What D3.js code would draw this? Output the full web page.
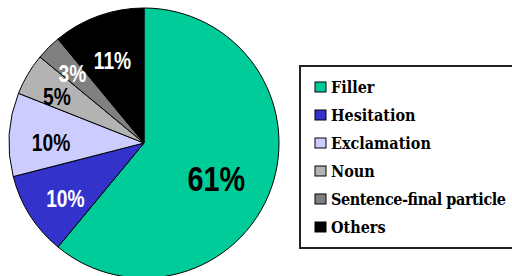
<meta charset="utf-8">
<script src="https://d3js.org/d3.v7.min.js"></script>
<style>
body { margin: 0; background: #fff; }
.lg { font-family: "DejaVu Serif", serif; font-weight: bold; font-stretch: condensed; }
.pl { font-family: "Liberation Sans", Arial, sans-serif; font-weight: bold; }
</style>
<body>
<div id="chart"></div>
<script>

var width = 512
var height = 276

var categories = ["Filler", "Hesitation", "Exclamation", "Noun", "Sentence-final particle", "Others"]
var values = [61, 10, 10, 5, 3, 11]
var labels = ["61%", "10%", "10%", "5%", "3%", "11%"]
var colors = ["#00cc99", "#3333cc", "#ccccff", "#b3b3b3", "#808080", "#000000"]
var labelColors = ["#000", "#fff", "#000", "#000", "#fff", "#fff"]

var data = categories.map(function(c, i) {
  return { key: c, value: values[i], label: labels[i], color: colors[i], tcolor: labelColors[i] }
})

var svg = d3.select("#chart")
  .append("svg")
    .attr("width", width)
    .attr("height", height)

var cx = 144, cy = 143, R = 135

var pie = d3.pie()
  .sort(null)
  .value(function(d) { return d.value })

var arc = d3.arc().innerRadius(0).outerRadius(R)

// label distance from centre: big slice nearer, thin slices further out
function labelPos(d) {
  var k = d.data.value > 50 ? 0.57 : (d.data.value < 6 ? 0.75 : 0.69)
  return d3.arc().innerRadius(R * k).outerRadius(R * k).centroid(d)
}

var g = svg.append("g").attr("transform", "translate(" + cx + "," + cy + ")")

var arcs = pie(data)

g.selectAll("path")
  .data(arcs)
  .enter()
  .append("path")
    .attr("d", arc)
    .attr("fill", function(d) { return d.data.color })
    .attr("stroke", "#000")
    .attr("stroke-width", 1)

g.selectAll("text")
  .data(arcs)
  .enter()
  .append("text")
    .attr("class", "pl")
    .attr("transform", function(d) {
      return "translate(" + labelPos(d) + ") scale(0.8,1)"
    })
    .attr("text-anchor", "middle")
    .attr("y", function(d) { return d.data.value > 50 ? 9 : (d.data.value == 3 ? 2 : 5) })
    .attr("dy", "0.36em")
    .attr("font-size", function(d) { return d.data.value > 50 ? "36px" : "24px" })
    .attr("fill", function(d) { return d.data.tcolor })
    .text(function(d) { return d.data.label })

// legend
var legend = svg.append("g")

legend.append("rect")
  .attr("x", 300)
  .attr("y", 66)
  .attr("width", 222)
  .attr("height", 182)
  .attr("fill", "#fff")
  .attr("stroke", "#222")
  .attr("stroke-width", 2)

var item = legend.selectAll(".item")
  .data(data)
  .enter()
  .append("g")
    .attr("class", "item")
    .attr("transform", function(d, i) { return "translate(315," + (87 + i * 28) + ")" })

item.append("rect")
  .attr("x", 0)
  .attr("y", -5)
  .attr("width", 11)
  .attr("height", 10)
  .attr("fill", function(d) { return d.color })
  .attr("stroke", "#000")
  .attr("stroke-width", 1)

item.append("text")
  .attr("class", "lg")
  .attr("x", 16)
  .attr("y", 6)
  .attr("font-size", "16px")
  .attr("fill", "#000")
  .text(function(d) { return d.key })
  .attr("textLength", function() { return this.getComputedTextLength() > 176 ? 175 : null })

</script>
</body>
